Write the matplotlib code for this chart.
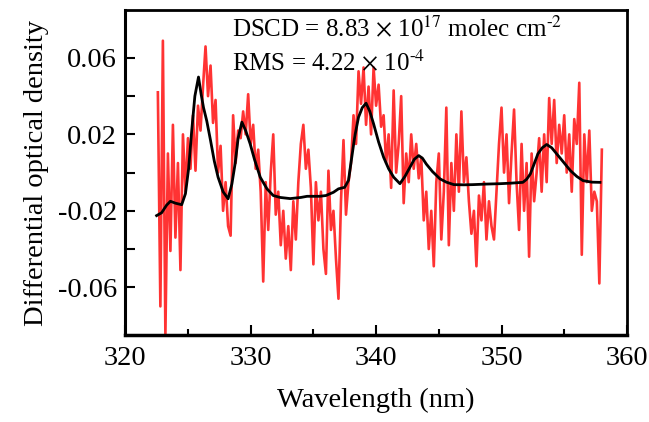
import numpy as np
import matplotlib
matplotlib.use("Agg")
import matplotlib.pyplot as plt

plt.rcParams['font.family'] = ['Liberation Serif', 'DejaVu Serif']
plt.rcParams['mathtext.fontset'] = 'stix'
plt.rcParams['axes.unicode_minus'] = False

# Measured differential optical density (x1e-3), 0.2 nm grid from 322.6 to 358.0 nm
red_start, red_end = 322.6, 358.0
red_vals = [
    42, -70, 69, -85, 10,
    -41, 25, -34, 5, -51,
    20, -10, 18, 2, 30,
    1, 35, 22, 45, 66,
    40, 56, 26, 38, 0,
    14, -20, -5, -28, -33,
    30, 5, 22, 18, 32,
    20, 41, 15, 25, 2,
    12, -10, -57, -5, -30,
    0, 20, -22, -10, -38,
    -20, -45, -28, -51, -15,
    -35, -5, 15, 25, 2,
    12, -8, -48, -5, -25,
    -10, -40, -53, 1, -30,
    -20, -45, -66, -15, 17,
    -22, -5, 5, 30, 15,
    53, 36, 55, 25, 45,
    20, 55, 35, 46, 24,
    30, 5, 20, -8, 43,
    0, 15, 40, -16, 10,
    -5, 20, 2, 15, -3,
    8, -25, -10, -40, -20,
    -49, -5, 10, -35, -10,
    34, -38, 5, -20, 20,
    -10, 32, -5, 8, -15,
    -32, -20, -49, -12, -25,
    -5, -35, -15, -28, -35,
    -10, 15, 34, 0, 20,
    -16, 10, 33, -5, -30,
    15, -20, 5, -44, 10,
    -15, 0, 18, -10, 20,
    -5, 39, 15, 38, 5,
    25, 10, 30, 0, 20,
    -10, 28, 15, 47, -43,
    20, -5, 22, -20, -10,
    -15, -58, 12,
]

# Fitted (reference) cross section curve
black_x = [322.5, 322.9, 323.3, 323.6, 324.0, 324.5, 324.8, 325.05, 325.3, 325.55,
           325.84, 326.05, 326.24, 326.5, 326.8, 327.1, 327.4, 327.8, 328.2, 328.5,
           328.76, 329.0, 329.3, 329.6, 329.96, 330.3, 330.76, 331.3, 331.8, 332.35,
           333.15, 334.0, 334.5, 335.5, 336.0, 336.6, 337.0, 337.5, 337.8, 338.06,
           338.3, 338.6, 338.9, 339.2, 339.5, 339.8, 340.2, 340.6, 341.0, 341.4,
           341.9, 342.3, 342.7, 343.05, 343.4, 343.7, 344.0, 344.5, 345.1, 345.6,
           346.2, 347.0, 347.7, 348.8, 349.9, 350.8, 351.7, 352.0, 352.3, 352.6,
           352.9, 353.25, 353.6, 354.0, 354.4, 355.0, 355.5, 356.0, 356.5, 357.2,
           357.85]
black_vals = [-22.5, -21, -17, -15, -16, -16.8, -11, 2, 22, 40,
              50, 41, 34, 27, 16.8, 6, -2.4, -10, -13.7, -6,
              4.7, 18, 26.4, 22, 15, 7, -2.4, -8.5, -12, -13,
              -13.6, -13, -12.4, -12.4, -12, -10.3, -8.5, -7.7, -4, 8,
              19, 29, 34, 36.3, 32, 25.5, 16, 8, 2, -2.4,
              -5.8, -2, 2.8, 7, 8.9, 7.5, 4.5, 0.5, -3.3, -5,
              -6.3, -6.4, -6.3, -6, -5.8, -5.5, -5.1, -3.5, -0.7, 4.5,
              9.8, 13, 14.7, 13, 9.8, 5, 1, -2, -4.2, -5,
              -5.1]

x_ticks = [320, 330, 340, 350, 360]
y_ticks = [-0.06, -0.02, 0.02, 0.06]
y_ticklabels = ['-0.06', '-0.02', '0.02', '0.06']
y_minor = [-0.04, 0.0, 0.04]

red_x = np.linspace(red_start, red_end, len(red_vals))
red_y = np.array(red_vals) * 1e-3
black_y = np.array(black_vals) * 1e-3

fig = plt.figure(figsize=(6.49, 4.22), dpi=100)
ax = fig.add_axes([0.193, 0.206, 0.773, 0.770])

ax.plot(red_x, red_y, color='#FF3333', lw=1.9)
ax.plot(black_x, black_y, color='black', lw=2.0)

ax.set_xlim(320, 360)
ax.set_ylim(-0.085, 0.085)
ax.set_xticks(x_ticks)
ax.set_xticks([325, 335, 345, 355], minor=True)
ax.set_yticks(y_ticks)
ax.set_yticklabels(y_ticklabels)
ax.set_yticks(y_minor, minor=True)

ax.tick_params(axis='both', which='both', direction='in', labelsize=20.5, width=1.5)
ax.tick_params(axis='x', which='major', length=7, pad=8)
ax.tick_params(axis='x', which='minor', length=4)
ax.tick_params(axis='y', which='both', length=7, pad=6)
ax.tick_params(top=False, right=False, which='both')

for s in ax.spines.values():
    s.set_linewidth(2.0)
ax.spines['bottom'].set_linewidth(2.5)
ax.spines['left'].set_linewidth(2.2)

ax.set_xlabel('Wavelength (nm)', fontsize=20.5, labelpad=12)
ax.set_ylabel('Differential optical density', fontsize=20.5, labelpad=6)

ax.text(328.5, 0.0755, r'DSCD = 8.83 $\times$ 10$^{17}$ molec cm$^{\text{-2}}$',
        fontsize=18, va='center', ha='left')
ax.text(328.5, 0.0577, r'RMS = 4.22 $\times$ 10$^{\text{-4}}$',
        fontsize=18, va='center', ha='left')

fig.savefig('out.png', dpi=100)
